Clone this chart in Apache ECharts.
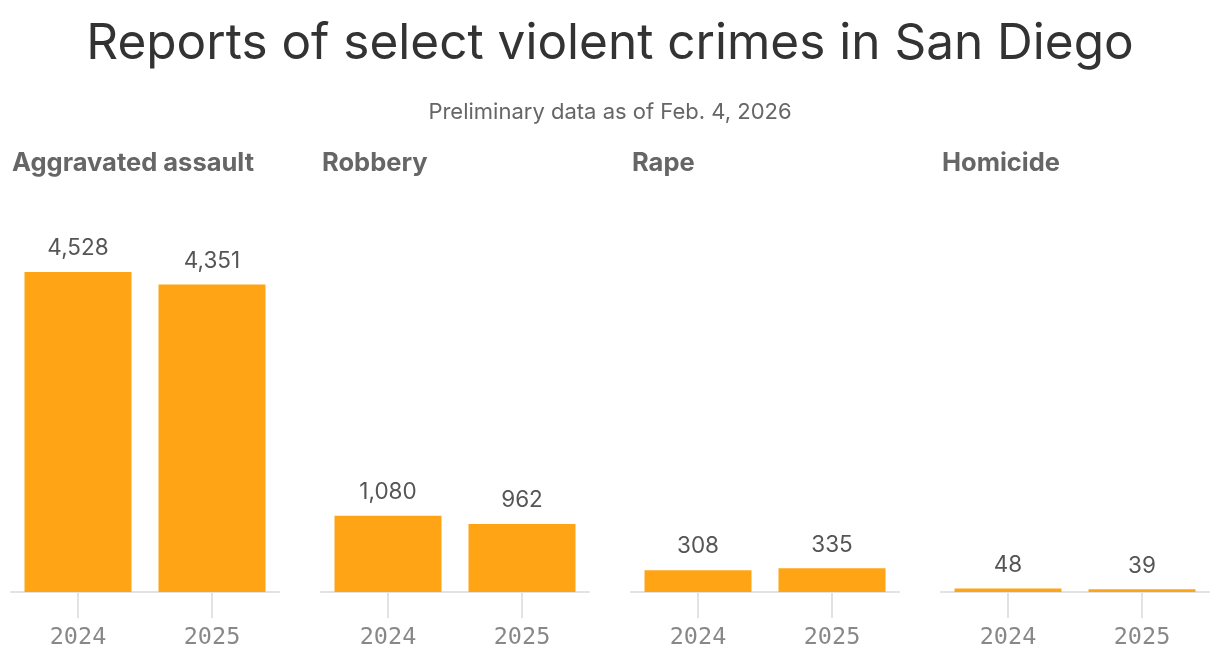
<!DOCTYPE html>
<html>
<head>
<meta charset="utf-8">
<script src="https://cdn.jsdelivr.net/npm/echarts@6/dist/echarts.min.js"></script>
<style>
html,body{margin:0;padding:0;background:#fff;}
#chart{width:1220px;height:660px;}
</style>
</head>
<body>
<div id="chart"></div>
<script>
const years = ["2024", "2025"];
const crimeTypes = ["Aggravated assault", "Robbery", "Rape", "Homicide"];
const aggravatedAssault = [4528, 4351];
const robbery = [1080, 962];
const rape = [308, 335];
const homicide = [48, 39];
const panelValues = [aggravatedAssault, robbery, rape, homicide];

const chart = echarts.init(document.getElementById('chart'));
const font = "Inter, 'Noto Sans', sans-serif";
const grids = [], xAxes = [], yAxes = [], series = [], titles = [];

titles.push({
  text: "Reports of select violent crimes in San Diego",
  left: 'center', top: 19, padding: 0,
  textStyle: {fontFamily: font, fontSize: 49.5, fontWeight: 'normal', color: '#333'}
});
titles.push({
  text: "Preliminary data as of Feb. 4, 2026",
  left: 'center', top: 101, padding: 0,
  textStyle: {fontFamily: font, fontSize: 22, fontWeight: 'normal', color: '#666'}
});

crimeTypes.forEach((name, i) => {
  const left = 11 + 310 * i;
  titles.push({
    text: name, left: left + 1, top: 150, padding: 0,
    textStyle: {fontFamily: font, fontSize: 25.5, fontWeight: 'bold', color: '#666'}
  });
  grids.push({left: left, width: 268, top: 238.6, bottom: 68, containLabel: false});
  xAxes.push({
    type: 'category', gridIndex: i, data: years,
    axisLine: {show: true, lineStyle: {color: '#e2e2e2', width: 2}},
    axisTick: {show: true, alignWithLabel: true, length: 26, lineStyle: {color: '#e2e2e2', width: 2}},
    axisLabel: {fontFamily: "'DejaVu Sans Mono', 'Liberation Mono', monospace", fontSize: 23.5, color: '#888', margin: 34}
  });
  yAxes.push({type: 'value', gridIndex: i, min: 0, max: 5000, show: false, splitLine: {show: false}});
  series.push({
    type: 'bar', xAxisIndex: i, yAxisIndex: i, data: panelValues[i],
    barWidth: 107, itemStyle: {color: '#FFA515'},
    label: {
      show: true, position: 'top', distance: 12,
      fontFamily: font, fontSize: 22.5, color: '#555',
      formatter: p => p.value.toLocaleString('en-US')
    },
    animation: false
  });
});

chart.setOption({
  animation: false,
  title: titles,
  grid: grids,
  xAxis: xAxes,
  yAxis: yAxes,
  series: series
});
</script>
</body>
</html>
